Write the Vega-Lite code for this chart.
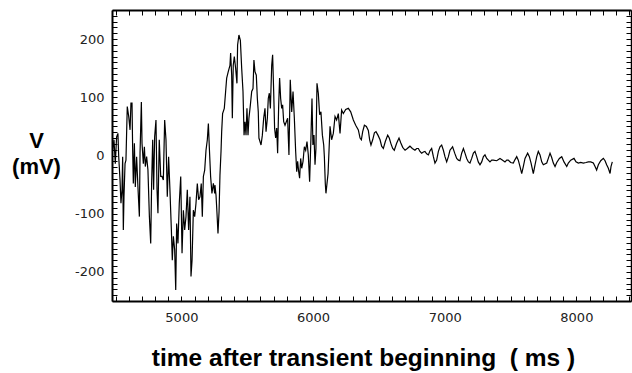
{
  "$schema": "https://vega.github.io/schema/vega-lite/v6.json",
  "width": 519,
  "height": 291,
  "autosize": {"type": "none"},
  "padding": {"left": 112, "top": 10, "right": 1, "bottom": 72},
  "background": "white",
  "config": {
    "view": {"stroke": null},
    "axis": {
      "grid": false,
      "domainColor": "black",
      "domainWidth": 2,
      "ticks": true,
      "tickColor": "black",
      "tickWidth": 1,
      "tickSize": -5,
      "labelFont": "DejaVu Sans",
      "labelFontSize": 13,
      "labelColor": "#222",
      "labelOverlap": false,
      "labelFlush": false,
      "labelBound": false,
      "titleFont": "Liberation Sans",
      "titleFontWeight": "bold",
      "titleColor": "black"
    }
  },
  "data": {"values": [
    {"t":4478,"v":9},{"t":4488,"v":27},{"t":4498,"v":-14},{"t":4508,"v":32},{"t":4518,"v":38},{"t":4524,"v":-2},{"t":4534,"v":-42},{"t":4541,"v":-82},{"t":4549,"v":-59},{"t":4554,"v":-2},{"t":4559,"v":-128},{"t":4564,"v":-71},{"t":4572,"v":-14},{"t":4579,"v":-8},{"t":4589,"v":84},{"t":4600,"v":67},{"t":4610,"v":44},{"t":4617,"v":90},{"t":4625,"v":90},{"t":4630,"v":9},{"t":4635,"v":-48},{"t":4643,"v":21},{"t":4650,"v":-54},{"t":4660,"v":-2},{"t":4670,"v":-54},{"t":4681,"v":-105},{"t":4686,"v":4},{"t":4696,"v":92},{"t":4701,"v":21},{"t":4711,"v":-14},{"t":4719,"v":15},{"t":4726,"v":-19},{"t":4736,"v":-2},{"t":4746,"v":-25},{"t":4757,"v":-105},{"t":4767,"v":-151},{"t":4774,"v":-48},{"t":4782,"v":27},{"t":4789,"v":-59},{"t":4797,"v":32},{"t":4807,"v":61},{"t":4815,"v":-59},{"t":4822,"v":-99},{"t":4832,"v":27},{"t":4843,"v":-36},{"t":4853,"v":-36},{"t":4863,"v":-42},{"t":4873,"v":61},{"t":4883,"v":27},{"t":4893,"v":-71},{"t":4903,"v":-2},{"t":4913,"v":-59},{"t":4924,"v":-128},{"t":4931,"v":-180},{"t":4939,"v":-139},{"t":4949,"v":-162},{"t":4957,"v":-231},{"t":4964,"v":-117},{"t":4974,"v":-151},{"t":4984,"v":-82},{"t":4995,"v":-36},{"t":5005,"v":-168},{"t":5015,"v":-94},{"t":5025,"v":-128},{"t":5035,"v":-105},{"t":5045,"v":-59},{"t":5055,"v":-128},{"t":5065,"v":-71},{"t":5073,"v":-208},{"t":5081,"v":-180},{"t":5091,"v":-94},{"t":5101,"v":-105},{"t":5111,"v":-82},{"t":5121,"v":-48},{"t":5131,"v":-76},{"t":5141,"v":-71},{"t":5151,"v":-48},{"t":5159,"v":-105},{"t":5167,"v":-36},{"t":5177,"v":-25},{"t":5187,"v":9},{"t":5197,"v":27},{"t":5205,"v":55},{"t":5212,"v":15},{"t":5222,"v":-36},{"t":5232,"v":-65},{"t":5243,"v":-48},{"t":5253,"v":-65},
    {"t":5255,"v":-51},{"t":5263,"v":-68},{"t":5270,"v":-97},{"t":5278,"v":-134},{"t":5286,"v":-97},{"t":5293,"v":-34},{"t":5301,"v":7},{"t":5306,"v":41},{"t":5313,"v":72},{"t":5326,"v":81},{"t":5336,"v":110},{"t":5344,"v":133},{"t":5356,"v":144},{"t":5369,"v":155},{"t":5374,"v":176},{"t":5382,"v":138},{"t":5387,"v":64},{"t":5394,"v":155},{"t":5402,"v":170},{"t":5412,"v":150},{"t":5422,"v":124},{"t":5427,"v":190},{"t":5437,"v":207},{"t":5448,"v":198},{"t":5458,"v":150},{"t":5468,"v":110},{"t":5476,"v":35},{"t":5483,"v":58},{"t":5491,"v":35},{"t":5498,"v":81},{"t":5506,"v":35},{"t":5513,"v":64},{"t":5524,"v":87},{"t":5534,"v":110},{"t":5544,"v":115},{"t":5551,"v":164},{"t":5559,"v":144},{"t":5569,"v":138},{"t":5577,"v":98},{"t":5584,"v":75},{"t":5589,"v":30},{"t":5597,"v":24},{"t":5605,"v":18},{"t":5615,"v":35},{"t":5625,"v":64},{"t":5635,"v":81},{"t":5643,"v":41},{"t":5653,"v":64},{"t":5660,"v":98},{"t":5668,"v":107},{"t":5676,"v":81},{"t":5686,"v":155},{"t":5693,"v":173},{"t":5701,"v":110},{"t":5708,"v":47},{"t":5716,"v":30},{"t":5724,"v":47},{"t":5731,"v":4},{"t":5739,"v":87},{"t":5746,"v":133},{"t":5754,"v":98},{"t":5762,"v":81},{"t":5769,"v":87},{"t":5777,"v":58},{"t":5787,"v":52},{"t":5797,"v":58},{"t":5807,"v":64},{"t":5817,"v":1},{"t":5827,"v":130},{"t":5838,"v":75},{"t":5848,"v":110},{"t":5858,"v":64},{"t":5868,"v":7},{"t":5876,"v":-28},{"t":5883,"v":-10},{"t":5891,"v":-28},{"t":5898,"v":-39},{"t":5906,"v":-5},{"t":5914,"v":-22},{"t":5924,"v":-10},{"t":5934,"v":15},{"t":5944,"v":9},{"t":5954,"v":24},{"t":5964,"v":1},{"t":5974,"v":-45},{"t":5984,"v":30},{"t":5992,"v":98},{"t":5999,"v":18},{"t":6007,"v":35},{"t":6015,"v":-16},{"t":6022,"v":12},{"t":6030,"v":124},{"t":6040,"v":107},{"t":6050,"v":70},{"t":6060,"v":75},{"t":6071,"v":35},{"t":6081,"v":18},
    {"t":6086,"v":-2},{"t":6093,"v":-48},{"t":6098,"v":-65},{"t":6114,"v":-31},{"t":6129,"v":50},{"t":6141,"v":27},{"t":6154,"v":38},{"t":6167,"v":67},{"t":6179,"v":61},{"t":6192,"v":72},{"t":6205,"v":38},{"t":6217,"v":78},{"t":6230,"v":72},{"t":6248,"v":79},{"t":6268,"v":81},{"t":6286,"v":75},{"t":6306,"v":61},{"t":6324,"v":52},{"t":6344,"v":44},{"t":6357,"v":30},{"t":6367,"v":27},{"t":6377,"v":41},{"t":6390,"v":52},{"t":6405,"v":50},{"t":6420,"v":43},{"t":6430,"v":27},{"t":6440,"v":18},{"t":6453,"v":27},{"t":6466,"v":39},{"t":6478,"v":41},{"t":6493,"v":35},{"t":6509,"v":27},{"t":6521,"v":16},{"t":6534,"v":12},{"t":6549,"v":24},{"t":6567,"v":35},{"t":6579,"v":30},{"t":6592,"v":20},{"t":6605,"v":12},{"t":6617,"v":9},{"t":6635,"v":21},{"t":6653,"v":30},{"t":6666,"v":22},{"t":6681,"v":14},{"t":6699,"v":9},{"t":6716,"v":12},{"t":6736,"v":16},{"t":6754,"v":12},{"t":6774,"v":9},{"t":6787,"v":12},{"t":6800,"v":12},{"t":6812,"v":7},{"t":6825,"v":4},{"t":6838,"v":6},{"t":6850,"v":7},{"t":6863,"v":3},{"t":6876,"v":1},{"t":6888,"v":8},{"t":6901,"v":12},{"t":6914,"v":-2},{"t":6926,"v":-13},{"t":6939,"v":-8},{"t":6952,"v":7},{"t":6964,"v":15},{"t":6977,"v":18},{"t":6990,"v":9},{"t":7002,"v":-2},{"t":7015,"v":-11},{"t":7028,"v":-2},{"t":7040,"v":9},{"t":7060,"v":15},{"t":7076,"v":4},{"t":7091,"v":-5},{"t":7104,"v":-8},{"t":7116,"v":-9},{"t":7129,"v":4},{"t":7142,"v":12},{"t":7154,"v":4},{"t":7167,"v":-5},{"t":7180,"v":-11},{"t":7192,"v":-13},{"t":7205,"v":-5},{"t":7218,"v":4},{"t":7230,"v":7},{"t":7243,"v":-2},{"t":7255,"v":-11},{"t":7268,"v":-16},{"t":7281,"v":-11},{"t":7294,"v":-2},{"t":7306,"v":1},{"t":7319,"v":-5},{"t":7344,"v":-11},{"t":7357,"v":-8},{"t":7369,"v":-8},{"t":7395,"v":-9},{"t":7420,"v":-5},{"t":7440,"v":-8},{"t":7458,"v":-11},{"t":7471,"v":-8},{"t":7483,"v":-8},{"t":7501,"v":-12},{"t":7521,"v":-13},{"t":7534,"v":-7},{"t":7547,"v":-2},{"t":7559,"v":-8},{"t":7572,"v":-19},{"t":7585,"v":-31},{"t":7597,"v":-19},{"t":7610,"v":-5},{"t":7630,"v":4},{"t":7643,"v":-2},{"t":7656,"v":-13},{"t":7673,"v":-31},{"t":7686,"v":-16},{"t":7699,"v":-2},{"t":7711,"v":7},{"t":7724,"v":1},{"t":7737,"v":-11},{"t":7749,"v":-16},{"t":7775,"v":-13},{"t":7787,"v":-5},{"t":7800,"v":4},{"t":7812,"v":-3},{"t":7825,"v":-13},{"t":7838,"v":-19},{"t":7851,"v":-12},{"t":7871,"v":-5},{"t":7889,"v":-2},{"t":7906,"v":-11},{"t":7927,"v":-19},{"t":7939,"v":-13},{"t":7957,"v":-8},{"t":7982,"v":-5},{"t":7997,"v":-11},{"t":8015,"v":-13},{"t":8033,"v":-12},{"t":8053,"v":-13},{"t":8073,"v":-12},{"t":8091,"v":-11},{"t":8109,"v":-11},{"t":8129,"v":-13},{"t":8142,"v":-19},{"t":8154,"v":-25},{"t":8167,"v":-16},{"t":8185,"v":-9},{"t":8205,"v":-5},{"t":8218,"v":-9},{"t":8230,"v":-16},{"t":8243,"v":-22},{"t":8256,"v":-31},{"t":8263,"v":-19},{"t":8273,"v":-11}
  ]},
  "layer": [
    {
      "mark": {"type": "line", "color": "black", "strokeWidth": 1.2, "interpolate": "linear"},
      "encoding": {
        "x": {
          "field": "t", "type": "quantitative",
          "scale": {"domain": [4473, 8415], "nice": false, "zero": false},
          "axis": {
            "orient": "bottom",
            "ticks": true,
            "tickSize": -5,
            "values": [4500,4600,4700,4800,4900,5000,5100,5200,5300,5400,5500,5600,5700,5800,5900,6000,6100,6200,6300,6400,6500,6600,6700,6800,6900,7000,7100,7200,7300,7400,7500,7600,7700,7800,7900,8000,8100,8200,8300,8400],
            "labelExpr": "datum.value % 1000 === 0 ? '' + datum.value : ''",
            "labelPadding": 15,
            "title": "time after transient beginning\u00a0\u00a0( ms )",
            "titleFontSize": 24.5,
            "titleAlign": "center",
            "titleBaseline": "alphabetic",
            "titleAnchor": "start",
            "titleX": 251,
            "titleY": 64
          }
        },
        "y": {
          "field": "v", "type": "quantitative",
          "scale": {"domain": [-250, 250], "nice": false, "zero": false},
          "axis": {
            "orient": "left",
            "ticks": true,
            "tickSize": -5,
            "values": [-250,-240,-230,-220,-210,-200,-190,-180,-170,-160,-150,-140,-130,-120,-110,-100,-90,-80,-70,-60,-50,-40,-30,-20,-10,0,10,20,30,40,50,60,70,80,90,100,110,120,130,140,150,160,170,180,190,200,210,220,230,240,250],
            "labelExpr": "datum.value % 100 === 0 ? '' + datum.value : ''",
            "labelPadding": 13,
            "title": ["V", "(mV)"],
            "titleFontSize": 22,
            "titleAngle": 0,
            "titleAlign": "center",
            "titleBaseline": "alphabetic",
            "titleAnchor": "start",
            "titleLineHeight": 26,
            "titleX": -76,
            "titleY": 137
          }
        }
      }
    },
    {
      "mark": {"type": "line", "strokeOpacity": 0},
      "encoding": {
        "x": {
          "field": "t", "type": "quantitative",
          "axis": {
            "orient": "top",
            "ticks": true,
            "tickSize": -5,
            "values": [4500,4600,4700,4800,4900,5000,5100,5200,5300,5400,5500,5600,5700,5800,5900,6000,6100,6200,6300,6400,6500,6600,6700,6800,6900,7000,7100,7200,7300,7400,7500,7600,7700,7800,7900,8000,8100,8200,8300,8400],
            "labels": false,
            "title": null
          }
        },
        "y": {
          "field": "v", "type": "quantitative",
          "axis": {
            "orient": "right",
            "ticks": true,
            "tickSize": -5,
            "values": [-250,-240,-230,-220,-210,-200,-190,-180,-170,-160,-150,-140,-130,-120,-110,-100,-90,-80,-70,-60,-50,-40,-30,-20,-10,0,10,20,30,40,50,60,70,80,90,100,110,120,130,140,150,160,170,180,190,200,210,220,230,240,250],
            "labels": false,
            "title": null,
            "domainWidth": 1.5
          }
        }
      }
    }
  ],
  "resolve": {"axis": {"x": "independent", "y": "independent"}}
}
